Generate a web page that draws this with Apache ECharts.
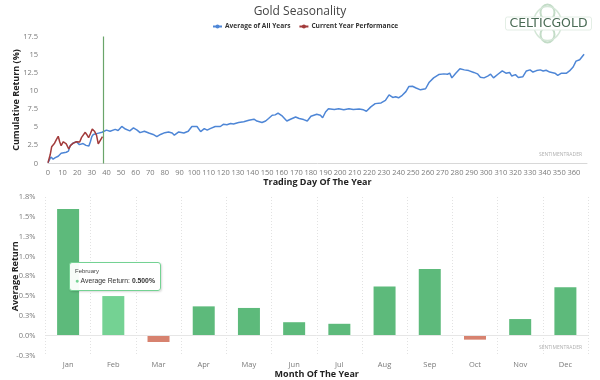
<!DOCTYPE html>
<html><head><meta charset="utf-8">
<script src="https://cdn.jsdelivr.net/npm/echarts@6/dist/echarts.min.js"></script>
<style>html,body{margin:0;padding:0;background:#fff}#c{width:600px;height:380px}</style>
</head><body><div id="c"></div>
<script>
// ---- data ----
const avgDays = [0,2,3.5,5,7,9,10,12.5,14,15,17,19.5,21.5,24,26,28,29,30,31,34,37,40,42.5,46,48,50.5,53,56,58.5,61,63,66,69,72,74.5,77,80,82.5,85,86.5,89.5,93,96,98.5,102,103,104.5,107,109,111,114.5,118,120,122.5,125,127,130.5,134,137.5,141,143,146.5,149,151,153.5,155.5,157.5,160,163.5,166,169.5,172,175,177.5,180,184,186.5,188,190,192,196,199,202.5,206,209,213,216,218,221,224,228,231,233.5,236,238,240,242.5,245,247,249.5,252,255,258.5,261,264,267.5,271,273.5,275,276.5,279,282,285,288,291.5,294,296,298.5,301,303,305,308,311,313.5,316,317.5,320,322,325,327.5,330,332,334.5,337,339,341,343.5,347,349,351.5,355,357,359.5,361.5,364,367];
const avgVals = [0.1,0.9,0.6,0.8,1.0,1.4,1.6,1.55,1.7,2.4,2.8,3.0,2.6,2.75,2.5,2.4,3.0,3.7,4.0,4.15,4.3,4.6,4.45,4.7,4.55,5.1,4.75,4.5,4.9,4.6,4.25,4.45,4.2,4.0,3.7,4.0,4.25,4.35,4.2,3.9,4.35,4.2,4.45,5.1,5.1,4.9,4.4,4.8,4.6,4.8,5.1,5.1,5.4,5.35,5.5,5.45,5.65,5.75,5.95,6.1,5.85,5.65,5.85,6.2,6.65,6.7,6.95,6.6,5.85,6.1,6.4,6.2,6.05,5.85,6.5,6.78,6.65,6.3,7.1,7.55,7.45,7.55,7.4,7.55,7.45,7.5,7.4,7.2,7.8,8.25,8.35,8.7,9.45,9.1,9.2,9.05,9.4,9.9,10.6,10.65,10.4,10.15,10.3,11.2,11.8,12.25,12.35,12.3,12.45,11.8,12.4,13.05,12.9,12.8,12.55,12.35,11.9,11.8,12.05,12.3,11.8,12.3,12.75,12.45,12.55,12.05,12.25,11.85,11.95,12.75,12.9,12.6,12.8,12.9,12.75,12.85,12.6,12.45,12.15,12.45,12.45,12.75,13.3,14.1,14.3,15.05];
const curDays = [0,1.5,2.5,4.5,6,7,8,9,10.5,12.5,14.2,15.5,17.3,19.5,21.7,23,25.5,26.5,27.8,29,30.3,31.8,33.2,34.4,35.5,37.3];
const curVals = [0.1,1.2,2.3,2.8,3.4,3.75,3.0,2.45,3.0,2.7,2.0,2.5,2.8,3.0,2.95,3.6,4.3,4.0,3.55,4.1,4.75,4.45,3.9,2.7,2.85,3.7];
const currentDay = 37.5;
const dayTicks = {min: 0, max: 369, step: 10};
const cumTicks = {min: 0, max: 17.5, step: 2.5};

const months = ['Jan','Feb','Mar','Apr','May','Jun','Jul','Aug','Sep','Oct','Nov','Dec'];
const monthNames = ['January','February','March','April','May','June','July','August','September','October','November','December'];
const monthReturns = [1.6,0.5,-0.08,0.37,0.35,0.17,0.15,0.62,0.84,-0.05,0.21,0.61];
const retTicks = {min: -0.25, max: 1.75, step: 0.25};
const highlighted = 1;

// ---- chart ----
const pair = (xs, ys) => xs.map((x, i) => [x, ys[i]]);
const GREEN = '#5dba7b', GREEN_HI = '#74d293', RED = '#d7826f';
const barData = monthReturns.map((v, i) => ({
  value: v,
  itemStyle: {color: i === highlighted ? GREEN_HI : (v < 0 ? RED : GREEN)}
}));
const lbl = {fontSize: 7.5, color: '#7a7a7a', fontFamily: 'Open Sans'};
const nameStyle = {fontSize: 9, fontWeight: 'bold', color: '#222', fontFamily: 'Open Sans'};

const chart = echarts.init(document.getElementById('c'));
chart.setOption({
  animation: false,
  backgroundColor: '#fff',
  title: {text: 'Gold Seasonality', left: 'center', top: 1,
    textStyle: {fontSize: 12, fontWeight: 'normal', color: '#444', fontFamily: 'Open Sans'}},
  legend: {top: 18, left: 207, itemWidth: 9, itemHeight: 5, itemGap: 8,
    data: ['Average of All Years', 'Current Year Performance'],
    textStyle: {fontSize: 6.6, fontWeight: 'bold', color: '#333', fontFamily: 'Open Sans', padding: [0, 0, 0, -2]}},
  tooltip: {trigger: 'item', triggerOn: 'none', alwaysShowContent: true, transitionDuration: 0,
    backgroundColor: 'rgba(255,255,255,0.95)', borderColor: GREEN_HI, borderWidth: 1,
    padding: [4, 5], extraCssText: 'box-shadow:1px 1px 2px rgba(0,0,0,0.15);border-radius:3px;',
    formatter: p => '<div style="font-size:6px;color:#444;line-height:9px">' + monthNames[p.dataIndex] + '</div>' +
      '<div style="font-size:6.8px;color:#333;line-height:10px"><span style="color:' + GREEN_HI + '">\u25CF</span> Average Return: <b>' +
      p.value.toFixed(3) + '%</b></div>',
    position: (pt, params, dom, rect, size) => {
      const w = size.contentSize[0], h = size.contentSize[1];
      return [rect.x + rect.width / 2 - w / 2 + 2, rect.y - h - 5];
    }},
  grid: [
    {left: 48, right: 13, top: 36.5, bottom: 216.5, outerBoundsMode: 'none', containLabel: false},
    {left: 45.5, right: 12, top: 197, bottom: 24.5, outerBoundsMode: 'none', containLabel: false}
  ],
  xAxis: [
    {type: 'value', gridIndex: 0, min: dayTicks.min, max: dayTicks.max, interval: dayTicks.step,
     axisLine: {lineStyle: {color: '#d8d8d8'}}, axisTick: {show: false}, splitLine: {show: false},
     axisLabel: Object.assign({margin: 5, showMaxLabel: false}, lbl),
     name: 'Trading Day Of The Year', nameLocation: 'middle', nameGap: 14, nameTextStyle: nameStyle},
    {type: 'category', gridIndex: 1, data: months,
     axisLine: {show: false, onZero: false}, axisTick: {show: false},
     splitLine: {show: true, interval: 0, lineStyle: {color: '#e2e2e2', type: [1, 2], width: 1}},
     axisLabel: Object.assign({margin: 5}, lbl),
     name: 'Month Of The Year', nameLocation: 'middle', nameGap: 14, nameTextStyle: nameStyle}
  ],
  yAxis: [
    {type: 'value', gridIndex: 0, min: cumTicks.min, max: cumTicks.max, interval: cumTicks.step,
     axisLine: {show: false}, axisTick: {show: false}, splitLine: {show: false},
     axisLabel: Object.assign({margin: 10}, lbl),
     name: 'Cumulative Return (%)', nameLocation: 'middle', nameGap: 27, nameMoveOverlap: false, nameTextStyle: nameStyle},
    {type: 'value', gridIndex: 1, min: retTicks.min, max: retTicks.max, interval: retTicks.step,
     axisLine: {show: false}, axisTick: {show: false}, splitLine: {show: false},
     axisLabel: Object.assign({margin: 10, formatter: v => v.toFixed(1) + '%'}, lbl),
     name: 'Average Return', nameLocation: 'middle', nameGap: 26, nameMoveOverlap: false, nameTextStyle: nameStyle}
  ],
  series: [
    {name: 'Average of All Years', type: 'line', xAxisIndex: 0, yAxisIndex: 0,
     data: pair(avgDays, avgVals), symbol: 'circle', symbolSize: 4, showSymbol: false,
     itemStyle: {color: '#4e86d6'}, lineStyle: {color: '#4e86d6', width: 1.5},
     markLine: {silent: true, symbol: 'none', label: {show: false},
       lineStyle: {color: '#6aa56a', width: 1.2, type: 'solid'}, data: [{xAxis: currentDay}]}},
    {name: 'Current Year Performance', type: 'line', xAxisIndex: 0, yAxisIndex: 0,
     data: pair(curDays, curVals), symbol: 'circle', symbolSize: 4, showSymbol: false,
     itemStyle: {color: '#a23b3b'}, lineStyle: {color: '#a23b3b', width: 1.5}},
    {name: 'Average Return', type: 'bar', xAxisIndex: 1, yAxisIndex: 1,
     data: barData, barWidth: 22,
     markLine: {silent: true, symbol: 'none', label: {show: false},
       lineStyle: {color: '#e6e6e6', width: 1, type: 'solid'}, data: [{yAxis: 0}]}}
  ],
  graphic: [
    {type: 'text', right: 18, top: 152, style: {text: 'SENTIMENTRADER', fontSize: 5, fill: '#b0b0b0', fontFamily: 'Open Sans'}},
    {type: 'text', right: 18, top: 345, style: {text: 'SENTIMENTRADER', fontSize: 5, fill: '#b0b0b0', fontFamily: 'Open Sans'}},
    {type: 'group', left: 505, top: 2, children: [
      {type: 'ellipse', shape: {cx: 44, cy: 11, rx: 7, ry: 8}, style: {fill: 'none', stroke: '#c3dcc7', lineWidth: 2}},
      {type: 'ellipse', shape: {cx: 44, cy: 33, rx: 7, ry: 8}, style: {fill: 'none', stroke: '#c3dcc7', lineWidth: 2}},
      {type: 'ellipse', shape: {cx: 44, cy: 22, rx: 14, ry: 17}, style: {fill: 'none', stroke: '#d3e6d6', lineWidth: 1.5}},
      {type: 'rect', shape: {x: 2, y: 15.5, width: 86, height: 13, r: 2}, style: {fill: '#fff', stroke: '#e3eee5', lineWidth: 1}},
      {type: 'text', x: 45, y: 22.5, style: {text: 'CELTICGOLD', fontSize: 12.5, fontFamily: 'DejaVu Sans', fill: '#4a6b55',
        align: 'center', verticalAlign: 'middle'}}
    ]}
  ]
});
chart.dispatchAction({type: 'showTip', seriesIndex: 2, dataIndex: highlighted});
</script></body></html>
